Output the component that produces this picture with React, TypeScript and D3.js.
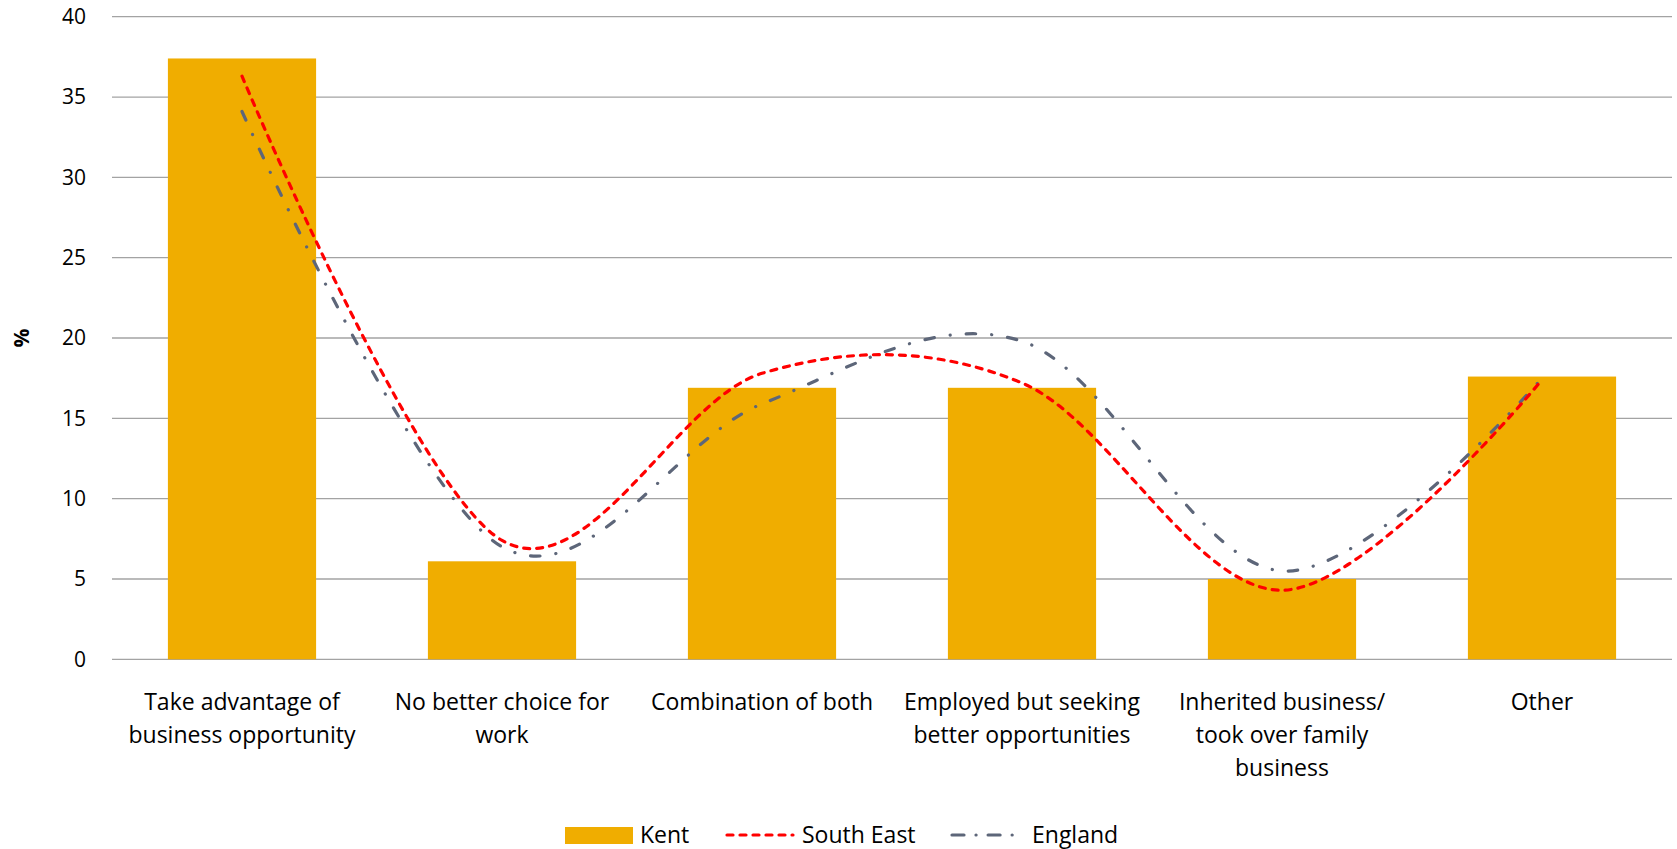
import React from "react";
import * as d3 from "d3";

const categories: string[][] = [
  ["Take advantage of", "business opportunity"],
  ["No better choice for", "work"],
  ["Combination of both"],
  ["Employed but seeking", "better opportunities"],
  ["Inherited business/", "took over family", "business"],
  ["Other"],
];
const kent = [37.4, 6.1, 16.9, 16.9, 5.0, 17.6];
const southEast = [36.3, 7.4, 17.8, 17.2, 4.3, 17.4];
const england = [34.1, 7.0, 15.9, 19.8, 5.5, 17.5];
const yTicks = [0, 5, 10, 15, 20, 25, 30, 35, 40];

const W = 1677;
const H = 849;
const FONT = "'Open Sans', sans-serif";

export default function App() {
  const ids = categories.map((_, i) => String(i));
  const x = d3.scaleBand().domain(ids).range([112, 1672]).paddingInner(0.43).paddingOuter(0.215);
  const y = d3.scaleLinear().domain([0, 40]).range([659.3, 16.7]);
  const cx = (i: number) => (x(String(i)) as number) + x.bandwidth() / 2;
  const line = d3
    .line<number>()
    .x((_, i) => cx(i))
    .y((d) => y(d))
    .curve(d3.curveCardinal.tension(0));

  return (
    <svg width={W} height={H} style={{ position: "absolute", left: 0, top: 0, background: "#fff" }}>
      {yTicks.map((t) => (
        <g key={t}>
          <line x1={112} x2={1672} y1={y(t)} y2={y(t)} stroke="#A3A3A3" strokeWidth={1.3} />
          <text x={86} y={y(t)} dy="0.35em" textAnchor="end" fontFamily={FONT} fontSize={21} fill="#000">
            {t}
          </text>
        </g>
      ))}
      <text
        transform={`translate(22,${y(20)}) rotate(-90)`}
        textAnchor="middle"
        dy="0.35em"
        fontFamily={FONT}
        fontSize={21}
        fontWeight="bold"
        fill="#000"
      >
        %
      </text>
      {kent.map((v, i) => (
        <rect key={i} x={x(String(i))} y={y(v)} width={x.bandwidth()} height={y(0) - y(v)} fill="#F0AD00" />
      ))}
      <path
        d={line(england) || ""}
        fill="none"
        stroke="#5D6679"
        strokeWidth={3.2}
        strokeLinecap="round"
        strokeDasharray="9.5,16,0.1,16"
      />
      <path
        d={line(southEast) || ""}
        fill="none"
        stroke="#FF0000"
        strokeWidth={3.2}
        strokeLinecap="round"
        strokeDasharray="6,7"
      />
      {categories.map((lines, i) => (
        <text key={i} textAnchor="middle" fontFamily={FONT} fontSize={23} fill="#000">
          {lines.map((l, j) => (
            <tspan key={j} x={cx(i)} y={710 + j * 33}>
              {l}
            </tspan>
          ))}
        </text>
      ))}
      <g fontFamily={FONT} fontSize={23} fill="#000">
        <rect x={565} y={827} width={68} height={17} fill="#F0AD00" />
        <text x={640} y={835} dy="0.35em">Kent</text>
        <line x1={727} x2={793} y1={835} y2={835} stroke="#FF0000" strokeWidth={3.2} strokeLinecap="round" strokeDasharray="6,7" />
        <text x={802} y={835} dy="0.35em">South East</text>
        <line x1={952} x2={1013} y1={835} y2={835} stroke="#5D6679" strokeWidth={3.2} strokeLinecap="round" strokeDasharray="12,12,0.1,12" />
        <text x={1032} y={835} dy="0.35em">England</text>
      </g>
    </svg>
  );
}
